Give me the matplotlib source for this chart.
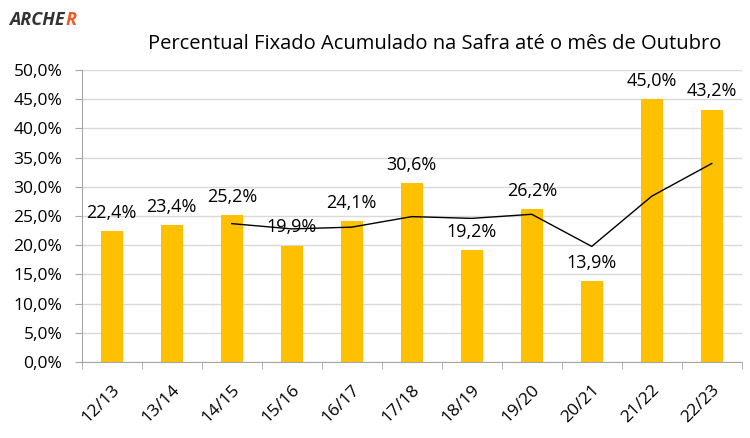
import matplotlib.pyplot as plt

safras = ['12/13', '13/14', '14/15', '15/16', '16/17', '17/18',
          '18/19', '19/20', '20/21', '21/22', '22/23']
fixado = [22.4, 23.4, 25.2, 19.9, 24.1, 30.6, 19.2, 26.2, 13.9, 45.0, 43.2]
# linha de media movel, a partir de 14/15
media_safras = safras[2:]
media = [23.7, 22.8, 23.1, 24.9, 24.6, 25.3, 19.8, 28.4, 34.0]

plt.rcParams['font.family'] = ['Open Sans', 'DejaVu Sans']

fig = plt.figure(figsize=(7.5, 4.38), dpi=100)
ax = fig.add_axes([0.109, 0.1735, 0.88, 0.6665])

x = range(len(safras))
ax.bar(x, fixado, width=0.37, color='#FFC000', zorder=2)
xm = [safras.index(s) for s in media_safras]
ax.plot(xm, media, color='black', lw=1, zorder=3)

for i, v in zip(x, fixado):
    ax.text(i, v + 1.6, f'{v:.1f}%'.replace('.', ','), ha='center', va='bottom',
            fontsize=13, color='black', zorder=4)

ax.set_ylim(0, 50)
ax.set_xlim(-0.5, len(safras) - 0.5)
yt = [i * 5 for i in range(11)]
ax.set_yticks(yt)
ax.set_yticklabels([f'{v:.1f}%'.replace('.', ',') for v in yt], fontsize=12.5)
ax.set_xticks(list(x))
ax.set_xticklabels(safras, rotation=45, fontsize=12.5, ha='right', va='top',
                   rotation_mode='anchor')
ax.set_xticks([i - 0.5 for i in range(len(safras) + 1)], minor=True)
ax.tick_params(axis='x', which='major', length=0, pad=14)
ax.tick_params(axis='x', which='minor', length=5, color='#A6A6A6')
ax.tick_params(axis='y', length=5, color='#A6A6A6', pad=9)
ax.grid(axis='y', color='#D9D9D9', lw=1, zorder=0)
for s in ['top', 'right']:
    ax.spines[s].set_visible(False)
for s in ['left', 'bottom']:
    ax.spines[s].set_color('#A6A6A6')

fig.text(0.58, 0.9, 'Percentual Fixado Acumulado na Safra até o mês de Outubro',
         ha='center', va='center', fontsize=14.5)

# logo
fig.text(0.012, 0.955, 'ARCHE', fontsize=13, fontweight='bold', fontstyle='italic',
         color='#333333', va='center')
fig.text(0.088, 0.955, 'R', fontsize=13, fontweight='bold', fontstyle='italic',
         color='#F05A28', va='center')

fig.savefig('out.png', dpi=100)
